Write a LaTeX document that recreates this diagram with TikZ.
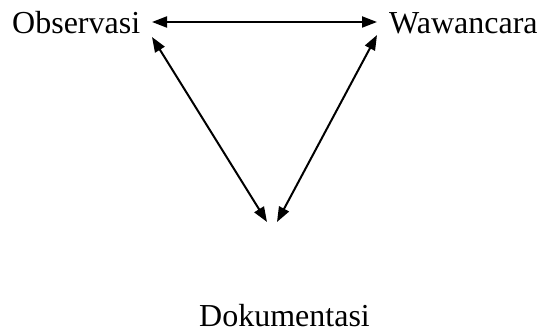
\documentclass[tikz,border=0pt]{standalone}
\usepackage{fontspec}
\setmainfont{Liberation Serif}
\usetikzlibrary{arrows.meta}
\begin{document}
\begin{tikzpicture}[x=1pt,y=-1pt,
  lbl/.style={inner sep=0pt,anchor=base west,font=\fontsize{32}{36}\selectfont},
  conn/.style={line width=2pt,{Triangle[length=15pt,width=11pt]}-{Triangle[length=15pt,width=11pt]}}]
\useasboundingbox (0,0) rectangle (543,334);
\node[lbl] (obs) at (12,34) {Observasi};
\node[lbl] (waw) at (389,34) {Wawancara};
\node[lbl] (dok) at (199,326) {Dokumentasi};
\coordinate (oh) at (152,22);
\coordinate (wh) at (377,22);
\coordinate (od) at (152,37);
\coordinate (wd) at (377,35);
\coordinate (dl) at (267,222);
\coordinate (dr) at (277,222);
\draw[conn] (oh) -- (wh);
\draw[conn] (od) -- (dl);
\draw[conn] (wd) -- (dr);
\end{tikzpicture}
\end{document}
